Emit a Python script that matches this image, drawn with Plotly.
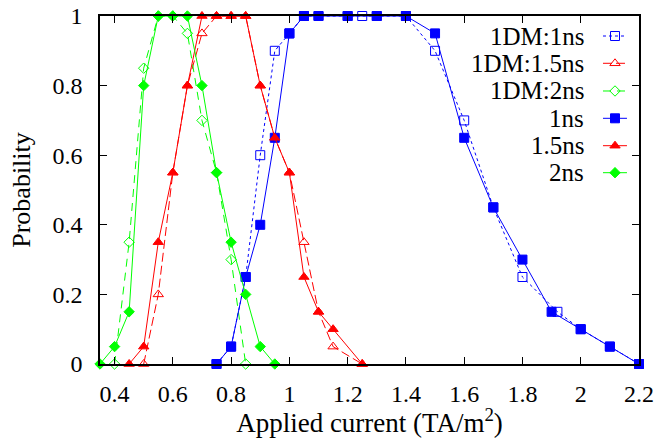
import plotly.graph_objects as go

# Switching probability versus applied current for three pulse widths,
# comparing the 1D model (1DM, open markers, dashed) with the full model.
dm1_x = [0.75, 0.8, 0.85, 0.9, 0.95, 1.0, 1.05, 1.1, 1.2, 1.25, 1.3, 1.4, 1.5, 1.6, 1.7, 1.8, 1.92, 2.0, 2.1, 2.2]
dm1_y = [0, 0.05, 0.25, 0.6, 0.9, 0.95, 1, 1, 1, 1, 1, 1, 0.9, 0.7, 0.45, 0.25, 0.15, 0.1, 0.05, 0]

dm15_x = [0.5, 0.55, 0.6, 0.65, 0.7, 0.75, 0.8, 0.85, 0.9, 0.95, 1.0, 1.05, 1.1, 1.15, 1.25]
dm15_y = [0, 0.2, 0.55, 0.8, 0.95, 1, 1, 1, 0.8, 0.65, 0.55, 0.35, 0.15, 0.05, 0]

dm2_x = [0.4, 0.45, 0.5, 0.55, 0.6, 0.65, 0.7, 0.75, 0.8, 0.85]
dm2_y = [0, 0.35, 0.85, 1, 1, 0.95, 0.7, 0.55, 0.3, 0]

ns1_x = [0.75, 0.8, 0.85, 0.9, 0.95, 1.0, 1.05, 1.1, 1.2, 1.3, 1.4, 1.5, 1.6, 1.7, 1.8, 1.9, 2.0, 2.1, 2.2]
ns1_y = [0, 0.05, 0.25, 0.4, 0.65, 0.95, 1, 1, 1, 1, 1, 0.95, 0.65, 0.45, 0.3, 0.15, 0.1, 0.05, 0]

ns15_x = [0.45, 0.5, 0.55, 0.6, 0.65, 0.7, 0.75, 0.8, 0.85, 0.9, 0.95, 1.0, 1.05, 1.1, 1.15, 1.25]
ns15_y = [0, 0.05, 0.35, 0.55, 0.8, 1, 1, 1, 1, 0.8, 0.65, 0.55, 0.25, 0.15, 0.1, 0]

ns2_x = [0.35, 0.4, 0.45, 0.5, 0.55, 0.6, 0.65, 0.7, 0.75, 0.8, 0.85, 0.9, 0.95]
ns2_y = [0, 0.05, 0.15, 0.8, 1, 1, 1, 0.8, 0.55, 0.35, 0.2, 0.05, 0]

x_ticks = [0.4, 0.6, 0.8, 1.0, 1.2, 1.4, 1.6, 1.8, 2.0, 2.2]
x_tick_text = ["0.4", "0.6", "0.8", "1", "1.2", "1.4", "1.6", "1.8", "2", "2.2"]
y_ticks = [0, 0.2, 0.4, 0.6, 0.8, 1.0]
y_tick_text = ["0", "0.2", "0.4", "0.6", "0.8", "1"]

BLUE, RED, GREEN = "#0000ff", "#ff0000", "#00ff00"
FONT = "'Liberation Serif', 'DejaVu Serif', serif"

series = [
    dict(name="1DM:1ns", x=dm1_x, y=dm1_y, color=BLUE, dash="3px,3px",
         symbol="square-open", size=9),
    dict(name="1DM:1.5ns", x=dm15_x, y=dm15_y, color=RED, dash="9px,4px",
         symbol="triangle-up-open", size=9),
    dict(name="1DM:2ns", x=dm2_x, y=dm2_y, color=GREEN, dash="8px,6px",
         symbol="diamond-open", size=8),
    dict(name="1ns", x=ns1_x, y=ns1_y, color=BLUE, dash="solid",
         symbol="square", size=9),
    dict(name="1.5ns", x=ns15_x, y=ns15_y, color=RED, dash="solid",
         symbol="triangle-up", size=9),
    dict(name="2ns", x=ns2_x, y=ns2_y, color=GREEN, dash="solid",
         symbol="diamond", size=8),
]

fig = go.Figure()
for s in series:
    fig.add_trace(go.Scatter(
        x=s["x"], y=s["y"], mode="lines+markers", name=s["name"],
        line=dict(color=s["color"], width=1, dash=s["dash"]),
        marker=dict(color=s["color"], symbol=s["symbol"], size=s["size"],
                    line=dict(color=s["color"], width=1)),
        cliponaxis=False, showlegend=False,
    ))

# Key in the upper right: label right-aligned, then a short sample line
# with its marker, drawn on an overlay axis spanning the plot area.
key_rows = [0.9425, 0.8641, 0.7845, 0.7060, 0.6273, 0.5497]
key_x0, key_mid, key_x1, key_text_x = 0.9332, 0.9555, 0.9777, 0.9011
for s, ky in zip(series, key_rows):
    fig.add_trace(go.Scatter(
        x=[key_x0, key_x1], y=[ky, ky], mode="lines",
        line=dict(color=s["color"], width=1, dash=s["dash"]),
        xaxis="x2", yaxis="y2", showlegend=False, hoverinfo="skip",
    ))
    fig.add_trace(go.Scatter(
        x=[key_mid], y=[ky], mode="markers",
        marker=dict(color=s["color"], symbol=s["symbol"], size=s["size"],
                    line=dict(color=s["color"], width=1)),
        xaxis="x2", yaxis="y2", showlegend=False, hoverinfo="skip",
        cliponaxis=False,
    ))
    fig.add_annotation(
        x=key_text_x, y=ky, xref="x2", yref="y2", text=s["name"],
        showarrow=False, xanchor="right", yanchor="middle",
        font=dict(family=FONT, size=25, color="black"),
    )

axis_common = dict(
    showgrid=False, zeroline=False, showline=True, linecolor="black",
    linewidth=1.5, mirror="ticks", ticks="inside", ticklen=7,
    tickcolor="black", tickwidth=1, automargin=False,
    tickfont=dict(family=FONT, size=24, color="black"),
)

fig.update_layout(
    width=657, height=438,
    margin=dict(l=100, r=18, t=16, b=74),
    paper_bgcolor="white", plot_bgcolor="white",
    font=dict(family=FONT, color="black"),
    xaxis=dict(range=[0.35, 2.2], tickvals=x_ticks, ticktext=x_tick_text,
               ticklabelstandoff=7,
               title=dict(text="Applied current (TA/m<sup>2</sup>)",
                          font=dict(family=FONT, size=27, color="black"),
                          standoff=5),
               **axis_common),
    yaxis=dict(range=[0, 1], tickvals=y_ticks, ticktext=y_tick_text,
               ticklabelstandoff=11,
               title=dict(text="Probability",
                          font=dict(family=FONT, size=26, color="black"),
                          standoff=14),
               **axis_common),
    xaxis2=dict(range=[0, 1], overlaying="x", visible=False, anchor="y2"),
    yaxis2=dict(range=[0, 1], overlaying="y", visible=False, anchor="x2"),
)

fig.write_html("out.html")
